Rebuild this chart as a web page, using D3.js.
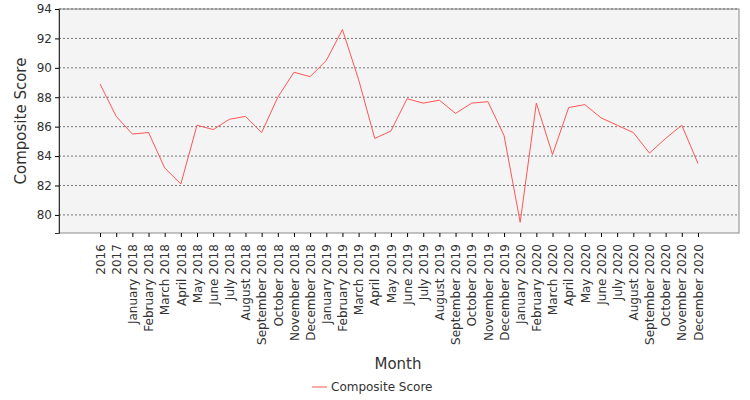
<!DOCTYPE html>
<html><head><meta charset="utf-8">
<script src="https://cdn.jsdelivr.net/npm/d3@7"></script>
<style>body{margin:0;background:#fff}text{font-family:"DejaVu Sans",sans-serif}</style>
</head><body><svg id="c" width="750" height="400"></svg>
<script>
const categories=["2016","2017","January 2018","February 2018","March 2018","April 2018","May 2018","June 2018","July 2018","August 2018","September 2018","October 2018","November 2018","December 2018","January 2019","February 2019","March 2019","April 2019","May 2019","June 2019","July 2019","August 2019","September 2019","October 2019","November 2019","December 2019","January 2020","February 2020","March 2020","April 2020","May 2020","June 2020","July 2020","August 2020","September 2020","October 2020","November 2020","December 2020"];
const values=[88.9,86.7,85.5,85.6,83.2,82.1,86.1,85.8,86.5,86.7,85.6,88.0,89.7,89.4,90.5,92.6,89.2,85.2,85.7,87.9,87.6,87.8,86.9,87.6,87.7,85.4,79.5,87.6,84.1,87.3,87.5,86.6,86.1,85.6,84.2,85.2,86.1,83.5];
const yTicks=[80,82,84,86,88,90,92,94];
const svg=d3.select("#c");
const L=59,R=739,T=9,B=233;
const x=d3.scalePoint().domain(categories).range([L,R]).padding(2.54);
const y=d3.scaleLinear().domain([78.77,94]).range([B,T]);
svg.append("rect").attr("x",L).attr("y",T).attr("width",R-L).attr("height",B-T).attr("fill","#f4f4f4").attr("stroke","#888");
svg.append("g").selectAll("line").data(yTicks).join("line").attr("x1",L).attr("x2",R).attr("y1",d=>y(d)).attr("y2",d=>y(d)).attr("stroke","#555").attr("stroke-dasharray","2,2").attr("stroke-width",0.8);
const ya=svg.append("g").attr("transform",`translate(${L},0)`).call(d3.axisLeft(y).tickValues(yTicks).tickSize(4));
ya.selectAll("text").attr("font-size",12).attr("fill","#333");
ya.select(".domain").attr("stroke","#333");
const xa=svg.append("g").attr("transform",`translate(0,${B})`).call(d3.axisBottom(x).tickSize(4));
xa.select(".domain").remove();
xa.selectAll("text").attr("font-size",12).attr("fill","#333").attr("transform","rotate(-90)").attr("text-anchor","end").attr("dx","-0.6em").attr("dy","0.35em").attr("x",0).attr("y",0).attr("transform","translate(0,4) rotate(-90)");
const line=d3.line().x((d,i)=>x(categories[i])).y(d=>y(d));
svg.append("path").datum(values).attr("d",line).attr("fill","none").attr("stroke","#ff5555").attr("stroke-width",1);
svg.append("text").attr("x",398).attr("y",369).attr("text-anchor","middle").attr("font-size",15).attr("fill","#333").text("Month");
svg.append("text").attr("transform","translate(26,121) rotate(-90)").attr("text-anchor","middle").attr("font-size",15).attr("fill","#333").text("Composite Score");
svg.append("line").attr("x1",312).attr("x2",327).attr("y1",387).attr("y2",387).attr("stroke","#ff5555");
svg.append("text").attr("x",331).attr("y",391).attr("font-size",12).attr("fill","#333").text("Composite Score");
</script></body></html>
